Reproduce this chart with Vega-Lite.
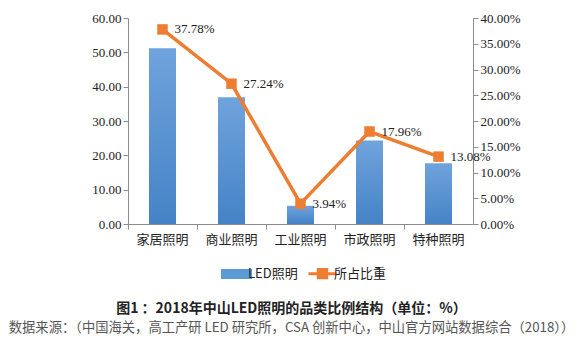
{
  "$schema": "https://vega.github.io/schema/vega-lite/v6.json",
  "width": 345,
  "height": 206,
  "autosize": "none",
  "padding": {"left": 128, "top": 18, "right": 107, "bottom": 116},
  "background": "white",
  "config": {
    "view": {"stroke": null},
    "axis": {"grid": false, "domainColor": "#8c8c8c", "tickColor": "#8c8c8c", "tickSize": 5, "labelColor": "#222", "labelFontSize": 13}
  },
  "title": {
    "text": "图1 ：2018年中山LED照明的品类比例结构（单位：%）",
    "subtitle": "数据来源：（中国海关，高工产研 LED 研究所，CSA 创新中心，中山官方网站数据综合（2018））",
    "orient": "bottom",
    "anchor": "middle",
    "dx": -9,
    "font": "Noto Sans CJK SC",
    "fontSize": 14,
    "fontWeight": "bold",
    "color": "#222",
    "subtitleFont": "Noto Sans CJK SC",
    "subtitleFontSize": 13.3,
    "subtitleColor": "#555",
    "subtitlePadding": 5,
    "offset": 18
  },
  "data": {
    "values": [
      {"cat": "家居照明", "led": 51.2, "pct": 0.3778},
      {"cat": "商业照明", "led": 36.9, "pct": 0.2724},
      {"cat": "工业照明", "led": 5.3, "pct": 0.0394},
      {"cat": "市政照明", "led": 24.3, "pct": 0.1796},
      {"cat": "特种照明", "led": 17.7, "pct": 0.1308}
    ]
  },
  "encoding": {
    "x": {
      "field": "cat", "type": "nominal", "sort": null,
      "scale": {"paddingInner": 0, "paddingOuter": 0},
      "axis": {"title": null, "labelAngle": 0, "bandPosition": 0, "labelFont": "Noto Sans CJK SC", "labelFontSize": 13, "labelPadding": 4}
    }
  },
  "layer": [
    {
      "mark": {
        "type": "bar", "size": 27,
        "color": {"gradient": "linear", "x1": 0, "y1": 0, "x2": 0, "y2": 1,
          "stops": [{"offset": 0, "color": "#6fa3dc"}, {"offset": 1, "color": "#4583c6"}]}
      },
      "encoding": {
        "y": {
          "field": "led", "type": "quantitative",
          "scale": {"domain": [0, 60], "nice": false},
          "axis": {"title": null, "values": [0, 10, 20, 30, 40, 50, 60], "format": ".2f", "labelFont": "Liberation Serif", "labelFontSize": 13}
        }
      }
    },
    {
      "encoding": {
        "y": {
          "field": "pct", "type": "quantitative",
          "scale": {"domain": [0, 0.4], "nice": false},
          "axis": {"title": null, "orient": "right", "values": [0, 0.05, 0.1, 0.15, 0.2, 0.25, 0.3, 0.35, 0.4], "format": ".2%", "labelFont": "Liberation Serif", "labelFontSize": 13}
        }
      },
      "layer": [
        {
          "mark": {"type": "line", "strokeWidth": 3.5},
          "encoding": {
            "color": {
              "datum": "所占比重",
              "scale": {"domain": ["LED照明", "所占比重"], "range": ["#5b9bd5", "#ed7d31"]},
              "legend": {
                "title": null,
                "orient": "none",
                "legendX": 100,
                "legendY": 247,
                "direction": "horizontal",
                "labelFont": "Noto Sans CJK SC",
                "labelFontSize": 13,
                "labelColor": "#222",
                "symbolSize": 196,
                "columnPadding": 4,
                "labelOffset": 3,
                "encode": {
                  "symbols": {
                    "update": {
                      "shape": {"signal": "datum.value === 'LED照明' ? 'M-2,-0.5H2V0.5H-2Z' : 'M-2,0H2M-0.6,-0.6H0.6V0.6H-0.6Z'"},
                      "fill": {"signal": "datum.value === 'LED照明' ? '#5b9bd5' : '#ed7d31'"},
                      "stroke": {"signal": "datum.value === 'LED照明' ? 'transparent' : '#ed7d31'"},
                      "strokeWidth": {"value": 3},
                      "opacity": {"value": 1}
                    }
                  }
                }
              }
            }
          }
        },
        {
          "mark": {"type": "point", "shape": "square", "filled": true, "size": 110, "color": "#ed7d31", "opacity": 1}
        },
        {
          "mark": {"type": "text", "align": "left", "dx": 12, "font": "Liberation Serif", "fontSize": 13, "color": "#222"},
          "encoding": {"text": {"field": "pct", "type": "quantitative", "format": ".2%"}}
        }
      ]
    }
  ],
  "resolve": {"scale": {"y": "independent"}, "axis": {"y": "independent"}}
}
